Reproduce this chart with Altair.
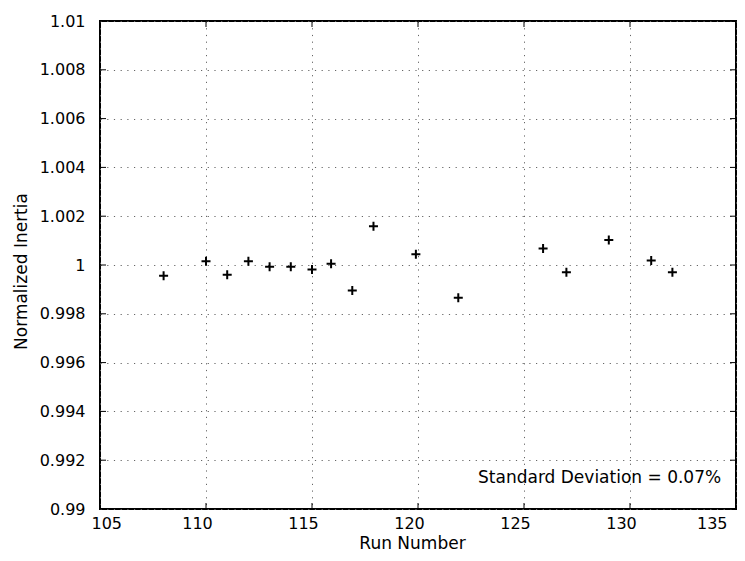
import altair as alt
import pandas as pd

# Data
run_number = [108.0, 110.0, 111.0, 112.0, 113.0, 114.0, 115.0, 115.9, 116.9, 117.9,
              119.9, 121.9, 125.9, 127.0, 129.0, 131.0, 132.0]
norm_inertia = [0.99956, 1.00015, 0.9996, 1.00015, 0.99993, 0.99993, 0.99982, 1.00005,
                0.99896, 1.00159, 1.00044, 0.99866, 1.00068, 0.9997, 1.00102, 1.00018, 0.9997]
x_ticks = [105, 110, 115, 120, 125, 130, 135]
y_ticks = [0.99, 0.992, 0.994, 0.996, 0.998, 1.0, 1.002, 1.004, 1.006, 1.008, 1.01]
note_text = ["Standard Deviation = 0.07%"]
note_x = [134.3]
note_y = [0.99127]

W, H = 636, 488
FONT = "DejaVu Sans"

pts = pd.DataFrame({"run": run_number, "inertia": norm_inertia})
xt = pd.DataFrame({"v": x_ticks})
yt = pd.DataFrame({"v": y_ticks})
note = pd.DataFrame({"t": note_text, "x": note_x, "y": note_y})

xscale = alt.Scale(domain=[105, 135], nice=False, zero=False)
yscale = alt.Scale(domain=[0.99, 1.01], nice=False, zero=False)

xaxis = alt.Axis(values=x_ticks, format="d", ticks=False, domain=False,
                 grid=True, gridDash=[1.2, 5.5], gridColor="#666", gridWidth=1,
                 labelPadding=6, labelOffset=-9, labelFont=FONT, labelFontSize=16,
                 labelColor="black", title="Run Number", titleFont=FONT,
                 titleFontSize=17, titleFontWeight="normal", titleColor="black",
                 titleX=312, titleY=34, titleBaseline="middle", titleAlign="center")
yaxis = alt.Axis(values=y_ticks, format="~g", ticks=False, domain=False,
                 grid=True, gridDash=[1.2, 5.5], gridColor="#666", gridWidth=1,
                 labelPadding=15, labelFont=FONT, labelFontSize=16,
                 labelColor="black", title="Normalized Inertia", titleFont=FONT,
                 titleFontSize=17, titleFontWeight="normal", titleColor="black",
                 titleX=-79, titleY=250, titleAngle=270, titleBaseline="middle",
                 titleAlign="center")

plus = "M-1,0H1M0,-1V1"

points = alt.Chart(pts).mark_point(shape=plus, size=81, filled=False,
                                   stroke="black", strokeWidth=2, opacity=1).encode(
    x=alt.X("run:Q", scale=xscale, axis=xaxis),
    y=alt.Y("inertia:Q", scale=yscale, axis=yaxis),
)

tl = 6
left_ticks = alt.Chart(yt).mark_rule(color="black", strokeWidth=1).encode(
    y=alt.Y("v:Q", scale=yscale), x=alt.value(0), x2=alt.value(tl))
right_ticks = alt.Chart(yt).mark_rule(color="black", strokeWidth=1).encode(
    y=alt.Y("v:Q", scale=yscale), x=alt.value(W - tl), x2=alt.value(W))
bottom_ticks = alt.Chart(xt).mark_rule(color="black", strokeWidth=1).encode(
    x=alt.X("v:Q", scale=xscale), y=alt.value(H - tl), y2=alt.value(H))
top_ticks = alt.Chart(xt).mark_rule(color="black", strokeWidth=1).encode(
    x=alt.X("v:Q", scale=xscale), y=alt.value(0), y2=alt.value(tl))

label = alt.Chart(note).mark_text(align="right", baseline="middle", font=FONT,
                                  fontSize=17, color="black").encode(
    x=alt.X("x:Q", scale=xscale), y=alt.Y("y:Q", scale=yscale), text="t:N")

chart = alt.layer(points, left_ticks, right_ticks, bottom_ticks, top_ticks, label).properties(
    width=W, height=H,
    autosize=alt.AutoSizeParams(type="none"),
    padding={"left": 100, "top": 21, "right": 9, "bottom": 52},
    background="white",
).configure_view(stroke="black", strokeWidth=2)

chart.save("out.html", embed_options={"renderer": "svg", "actions": False})
